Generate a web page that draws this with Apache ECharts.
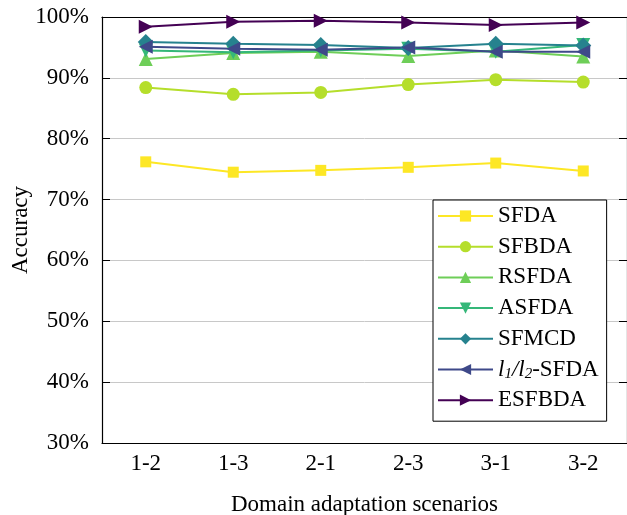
<!DOCTYPE html>
<html>
<head>
<meta charset="utf-8">
<script src="https://cdn.jsdelivr.net/npm/echarts@6/dist/echarts.min.js"></script>
<style>
  html, body { margin: 0; padding: 0; background: #fff; }
  #chart { width: 627px; height: 515px; }
</style>
</head>
<body>
<div id="chart"></div>
<script>
const scenarios = ['1-2', '1-3', '2-1', '2-3', '3-1', '3-2']

const sfda = [76.2, 74.5, 74.8, 75.3, 76.0, 74.7]
const sfbda = [88.4, 87.3, 87.6, 88.9, 89.7, 89.3]
const rsfda = [93.1, 94.1, 94.3, 93.6, 94.5, 93.5]
const asfda = [94.5, 94.2, 94.5, 94.8, 94.3, 95.4]
const sfmcd = [95.9, 95.6, 95.4, 94.9, 95.6, 95.3]
const l1l2sfda = [95.1, 94.8, 94.6, 95.0, 94.3, 94.3]
const esfbda = [98.4, 99.2, 99.4, 99.1, 98.7, 99.1]

const font = 'Liberation Serif'
const fs = 23

const chart = echarts.init(document.getElementById('chart'))

const mkSeries = (name, data, color, symbol, size, rotate) => ({
  name,
  type: 'line',
  data,
  symbol,
  symbolSize: size,
  symbolRotate: rotate || 0,
  lineStyle: { width: 2, color },
  itemStyle: { color },
  emphasis: { disabled: true }
})

const option = {
  animation: false,
  grid: { left: 102, right: 0, top: 17, bottom: 72, outerBoundsMode: 'none' },
  textStyle: { fontFamily: font },
  legend: {
    orient: 'vertical',
    left: 433,
    top: 200,
    padding: [4, 8, 9, 4],
    backgroundColor: '#fff',
    borderColor: '#000',
    borderWidth: 1,
    itemWidth: 55,
    itemHeight: 14,
    itemGap: 6.7,
    textStyle: {
      fontFamily: font,
      fontSize: fs,
      color: '#000',
      lineHeight: 24,
      rich: {
        i: { fontFamily: font, fontSize: fs, fontStyle: 'italic', color: '#000' },
        s: { fontFamily: font, fontSize: 15, fontStyle: 'italic', color: '#000', verticalAlign: 'bottom', padding: [12, 0, 0, 0] },
        n: { fontFamily: font, fontSize: fs, color: '#000' }
      }
    },
    formatter: name => name === 'l1/l2-SFDA' ? '{i|l}{s|1}{i|/l}{s|2}{n|-SFDA}' : name
  },
  xAxis: [
    {
      type: 'category',
      data: scenarios,
      name: 'Domain adaptation scenarios',
      nameLocation: 'middle',
      nameGap: 50,
      nameMoveOverlap: false,
      nameTextStyle: { fontFamily: font, fontSize: fs, color: '#000' },
      axisLine: { lineStyle: { color: '#000', width: 1.2 } },
      axisTick: { inside: true, alignWithLabel: true, length: 8, lineStyle: { color: '#000' } },
      axisLabel: { fontFamily: font, fontSize: fs, color: '#000', margin: 9 }
    },
    {
      type: 'category',
      data: scenarios,
      position: 'top',
      axisLine: { lineStyle: { color: '#000', width: 1.2 } },
      axisTick: { show: false },
      axisLabel: { show: false }
    }
  ],
  yAxis: [
    {
      type: 'value',
      min: 30,
      max: 100,
      interval: 10,
      name: 'Accuracy',
      nameLocation: 'middle',
      nameGap: 70,
      nameMoveOverlap: false,
      nameTextStyle: { fontFamily: font, fontSize: fs, color: '#000' },
      axisLine: { show: true, lineStyle: { color: '#000', width: 1.2 } },
      axisTick: { show: true, inside: true, length: 8, lineStyle: { color: '#000' } },
      axisLabel: { fontFamily: font, fontSize: fs, color: '#000', margin: 13, formatter: '{value}%' },
      splitLine: { lineStyle: { color: '#c8c8c8', width: 1 } }
    },
    {
      type: 'value',
      min: 30,
      max: 100,
      interval: 10,
      position: 'right',
      axisLine: { show: true, lineStyle: { color: '#000', width: 1.2 } },
      axisTick: { show: true, inside: true, length: 8, lineStyle: { color: '#000' } },
      axisLabel: { show: false },
      splitLine: { show: false }
    }
  ],
  series: [
    mkSeries('SFDA', sfda, '#fde725', 'rect', 11),
    mkSeries('SFBDA', sfbda, '#b5de2b', 'circle', 13),
    mkSeries('RSFDA', rsfda, '#6ece58', 'triangle', 14),
    mkSeries('ASFDA', asfda, '#35b779', 'triangle', 14, 180),
    mkSeries('SFMCD', sfmcd, '#26828e', 'diamond', 16),
    mkSeries('l1/l2-SFDA', l1l2sfda, '#3e4989', 'triangle', 14, 90),
    mkSeries('ESFBDA', esfbda, '#440154', 'triangle', 14, -90)
  ]
}

chart.setOption(option)
</script>
</body>
</html>
